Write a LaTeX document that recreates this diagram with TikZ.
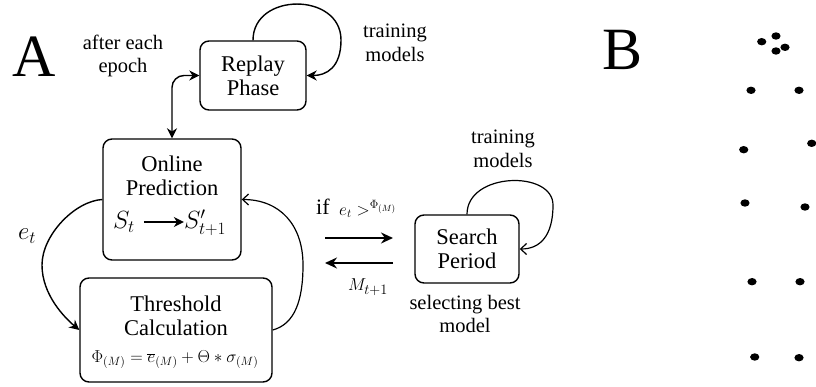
\documentclass[tikz,border=0pt]{standalone}
\usepackage{fontspec}
\setmainfont{Liberation Serif}
\usetikzlibrary{arrows.meta}
\begin{document}
\begin{tikzpicture}[x=1pt,y=-1pt,
  box/.style={draw, line width=1.4pt, rounded corners=9pt, inner sep=0pt},
  boxtxt/.style={align=center, font=\fontsize{22.5}{24}\selectfont, inner sep=0pt},
  lbl/.style={align=center, font=\fontsize{20.5}{23.5}\selectfont, inner sep=0pt},
  big/.style={font=\fontsize{60}{60}\selectfont, inner sep=0pt},
  arr/.style={line width=1.4pt, -{Stealth[length=10pt,width=10pt]}},
  oarr/.style={line width=1.2pt, -{Straight Barb[length=6pt,width=11pt]}},
  dot/.style={fill=black, draw=none}]
\useasboundingbox (0,0) rectangle (816,387);

% panel letters
\node[big] (A) at (34,57) {A};
\node[big] (B) at (623,50) {B};

% boxes
\node[box, minimum width=106pt, minimum height=69pt] (rp) at (253,75.5) {};
\node[boxtxt] (rpt) at (rp) {Replay\\Phase};

\node[box, minimum width=138pt, minimum height=121pt] (op) at (172,199.5) {};
\node[boxtxt] (opt) at (172,176) {Online\\Prediction};
\node[inner sep=0pt, font=\fontsize{25}{25}\selectfont] (st) at (124,222) {$S_t$};
\node[inner sep=0pt, font=\fontsize{25}{25}\selectfont] (sp) at (205,223) {$S'_{t+1}$};
\draw[line width=1.8pt, -{Stealth[length=10pt,width=10pt]}] (st.east) ++(9,0) coordinate (sa) -- (sa -| sp.west);

\node[box, minimum width=192pt, minimum height=104pt] (th) at (176,330) {};
\node[boxtxt] (tht) at (176,316) {Threshold\\Calculation};
\node[inner sep=0pt, font=\fontsize{17}{17}\selectfont] (form) at (175,360)
  {$\Phi_{(M)} = \overline{e}_{(M)} + \Theta * \sigma_{(M)}$};

\node[box, minimum width=104pt, minimum height=68pt] (se) at (467,249) {};
\node[boxtxt] (set) at (se) {Search\\Period};

% labels
\node[lbl] (l1) at (123,56) {after each\\epoch};
\node[lbl] (l2) at (395,43) {training\\models};
\node[lbl] (l3) at (503,149) {training\\models};
\node[lbl] (l4) at (465,314) {selecting best\\model};
\node[inner sep=0pt, font=\fontsize{27}{27}\selectfont] (et) at (27,236) {$e_t$};
\node[inner sep=0pt, font=\fontsize{22}{22}\selectfont, anchor=west] (ift) at (316,207) {if};
\node[inner sep=0pt, font=\fontsize{18}{18}\selectfont, anchor=west] (ifm) at (339,209) {$e_t >^{\Phi_{(M)}}$};
\node[inner sep=0pt, font=\fontsize{19}{19}\selectfont] (mt) at (368,287) {$M_{t+1}$};

% connectors
\draw[arr] (rp.north) .. controls (253,-8) and (341,-8) .. (341,40)
  .. controls (341,68) and (326,75.5) .. (rp.east);
\draw[line width=1.4pt, {Stealth[length=10pt,width=10pt]}-{Stealth[length=10pt,width=10pt]}, rounded corners=12pt]
  (rp.west) -| (op.north);
\draw[arr] (op.west) .. controls (75,201) and (42,235) .. (42,265)
  .. controls (42,295) and (65,318) .. (th.west);
\draw[oarr] (th.east) .. controls (295,324) and (303,300) .. (303,265)
  .. controls (303,225) and (280,199.5) .. (op.east);
\draw[oarr] (se.north) .. controls (467,172) and (553,170) .. (553,205)
  .. controls (553,236) and (540,249) .. (se.east);

\coordinate (h1a) at (325,238);
\coordinate (h1b) at (393,238);
\coordinate (h2a) at (393,263);
\coordinate (h2b) at (325,263);
\draw[line width=1.6pt, -{Stealth[length=12pt,width=11pt]}] (h1a) -- (h1b);
\draw[line width=1.6pt, -{Stealth[length=12pt,width=11pt]}] (h2a) -- (h2b);

% panel B dots
\foreach \px/\py in {761.7/41.7, 776/36, 776/51, 785/47.3, 751/90.3, 799/90.3,
  743.7/149.7, 811.7/143.3, 745/203, 805/207, 752/281.7, 800/281.7, 754.7/357, 799/357.7}
  \fill[dot] (\px,\py) ellipse [x radius=4.6pt, y radius=3.7pt];
\end{tikzpicture}
\end{document}
